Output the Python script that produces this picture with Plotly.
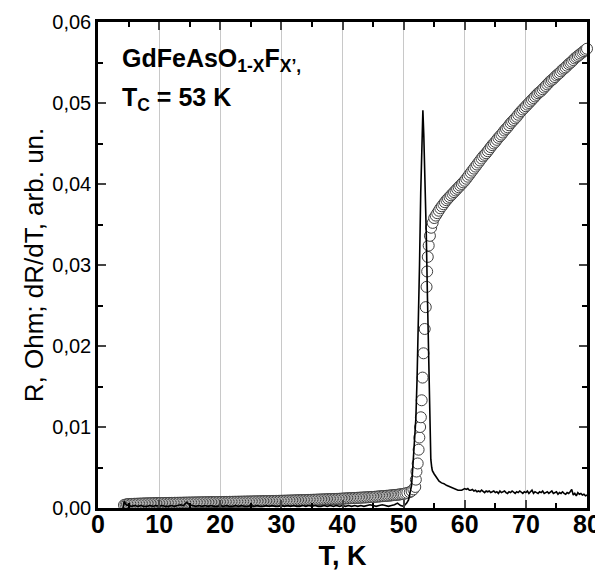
import plotly.graph_objects as go

# ---- resistance R(T) (open circles) ----
r_temp = [4.25, 4.5, 4.75,
          5.0, 5.25, 5.5, 5.75, 6.0, 6.25, 6.5, 6.75, 7.0, 7.25, 7.5, 7.75,
          8.0, 8.25, 8.5, 8.75, 9.0, 9.25, 9.5, 9.75, 10.0, 10.25, 10.5, 10.75,
          11.0, 11.25, 11.5, 11.75, 12.0, 12.25, 12.5, 12.75, 13.0, 13.25, 13.5, 13.75,
          14.0, 14.25, 14.5, 14.75, 15.0, 15.25, 15.5, 15.75, 16.0, 16.25, 16.5, 16.75,
          17.0, 17.25, 17.5, 17.75, 18.0, 18.25, 18.5, 18.75, 19.0, 19.25, 19.5, 19.75,
          20.0, 20.25, 20.5, 20.75, 21.0, 21.25, 21.5, 21.75, 22.0, 22.25, 22.5, 22.75,
          23.0, 23.25, 23.5, 23.75, 24.0, 24.25, 24.5, 24.75, 25.0, 25.25, 25.5, 25.75,
          26.0, 26.25, 26.5, 26.75, 27.0, 27.25, 27.5, 27.75, 28.0, 28.25, 28.5, 28.75,
          29.0, 29.25, 29.5, 29.75, 30.0, 30.25, 30.5, 30.75, 31.0, 31.25, 31.5, 31.75,
          32.0, 32.25, 32.5, 32.75, 33.0, 33.25, 33.5, 33.75, 34.0, 34.25, 34.5, 34.75,
          35.0, 35.25, 35.5, 35.75, 36.0, 36.25, 36.5, 36.75, 37.0, 37.25, 37.5, 37.75,
          38.0, 38.25, 38.5, 38.75, 39.0, 39.25, 39.5, 39.75, 40.0, 40.25, 40.5, 40.75,
          41.0, 41.25, 41.5, 41.75, 42.0, 42.25, 42.5, 42.75, 43.0, 43.25, 43.5, 43.75,
          44.0, 44.25, 44.5, 44.75, 45.0, 45.25, 45.5, 45.75, 46.0, 46.25, 46.5, 46.75,
          47.0, 47.25, 47.5, 47.75, 48.0, 48.25, 48.5, 48.75, 49.0, 49.25, 49.5, 49.75,
          50.0, 50.3, 50.6, 51.0, 51.3, 51.6, 51.9, 52.0, 52.1, 52.3, 52.45,
          52.57, 52.7, 52.82, 52.95, 53.1, 53.25, 53.45, 53.62, 53.75,
          53.85, 53.95, 54.1, 54.3, 54.5, 54.75,
          55.0, 55.25, 55.5, 55.75, 56.0, 56.25, 56.5, 56.75, 57.0, 57.25, 57.5, 57.75,
          58.0, 58.25, 58.5, 58.75, 59.0, 59.25, 59.5, 59.75, 60.0, 60.25, 60.5, 60.75,
          61.0, 61.25, 61.5, 61.75, 62.0, 62.25, 62.5, 62.75, 63.0, 63.25, 63.5, 63.75,
          64.0, 64.25, 64.5, 64.75, 65.0, 65.25, 65.5, 65.75, 66.0, 66.25, 66.5, 66.75,
          67.0, 67.25, 67.5, 67.75, 68.0, 68.25, 68.5, 68.75, 69.0, 69.25, 69.5, 69.75,
          70.0, 70.25, 70.5, 70.75, 71.0, 71.25, 71.5, 71.75, 72.0, 72.25, 72.5, 72.75,
          73.0, 73.25, 73.5, 73.75, 74.0, 74.25, 74.5, 74.75, 75.0, 75.25, 75.5, 75.75,
          76.0, 76.25, 76.5, 76.75, 77.0, 77.25, 77.5, 77.75, 78.0, 78.25, 78.5, 78.75,
          79.0, 79.25, 79.5, 79.75, 80.0]
r_ohm = [0.00036, 0.00042, 0.00046,
         0.00048, 0.00049, 0.00050, 0.00051, 0.00052, 0.00052, 0.00053, 0.00054, 0.00054, 0.00055, 0.00056, 0.00056,
         0.00057, 0.00057, 0.00058, 0.00058, 0.00059, 0.00059, 0.00060, 0.00060, 0.00060, 0.00061, 0.00061, 0.00061,
         0.00062, 0.00062, 0.00062, 0.00063, 0.00063, 0.00063, 0.00064, 0.00064, 0.00064, 0.00065, 0.00065, 0.00065,
         0.00066, 0.00066, 0.00066, 0.00067, 0.00067, 0.00067, 0.00068, 0.00068, 0.00068, 0.00069, 0.00069, 0.00069,
         0.00070, 0.00070, 0.00070, 0.00071, 0.00071, 0.00071, 0.00072, 0.00072, 0.00072, 0.00073, 0.00073, 0.00073,
         0.00074, 0.00074, 0.00074, 0.00075, 0.00075, 0.00075, 0.00076, 0.00076, 0.00076, 0.00077, 0.00077, 0.00077,
         0.00078, 0.00078, 0.00078, 0.00079, 0.00079, 0.00079, 0.00080, 0.00080, 0.00080, 0.00081, 0.00081, 0.00082,
         0.00082, 0.00082, 0.00083, 0.00083, 0.00084, 0.00084, 0.00085, 0.00085, 0.00085, 0.00086, 0.00086, 0.00087,
         0.00087, 0.00088, 0.00088, 0.00089, 0.00089, 0.00090, 0.00090, 0.00091, 0.00091, 0.00092, 0.00092, 0.00093,
         0.00093, 0.00094, 0.00095, 0.00095, 0.00096, 0.00096, 0.00097, 0.00098, 0.00098, 0.00099, 0.00100, 0.00100,
         0.00101, 0.00102, 0.00102, 0.00103, 0.00104, 0.00104, 0.00105, 0.00106, 0.00106, 0.00107, 0.00108, 0.00109,
         0.00109, 0.00110, 0.00111, 0.00112, 0.00112, 0.00113, 0.00114, 0.00115, 0.00116, 0.00117, 0.00118, 0.00119,
         0.00120, 0.00121, 0.00122, 0.00123, 0.00124, 0.00125, 0.00126, 0.00127, 0.00128, 0.00129, 0.00130, 0.00131,
         0.00132, 0.00133, 0.00135, 0.00136, 0.00137, 0.00138, 0.00140, 0.00141, 0.00143, 0.00144, 0.00146, 0.00147,
         0.00149, 0.00151, 0.00152, 0.00154, 0.00156, 0.00158, 0.00160, 0.00162, 0.00164, 0.00166, 0.00169, 0.00172,
         0.00175, 0.00180, 0.00186, 0.00195, 0.00210, 0.00230, 0.00260, 0.00350, 0.00450, 0.00550, 0.00720,
         0.00870, 0.01000, 0.01120, 0.01330, 0.01610, 0.01910, 0.02210, 0.02480, 0.02730,
         0.02920, 0.03100, 0.03240, 0.03360, 0.03460, 0.03520,
         0.03580, 0.03610, 0.03640, 0.03670, 0.03700, 0.03725, 0.03750, 0.03775, 0.03800, 0.03820, 0.03840, 0.03860,
         0.03880, 0.03900, 0.03920, 0.03940, 0.03960, 0.03980, 0.04000, 0.04020, 0.04040, 0.04065, 0.04090, 0.04115,
         0.04140, 0.04165, 0.04190, 0.04215, 0.04240, 0.04265, 0.04290, 0.04315, 0.04340, 0.04360, 0.04380, 0.04405,
         0.04430, 0.04455, 0.04480, 0.04500, 0.04520, 0.04545, 0.04570, 0.04590, 0.04610, 0.04635, 0.04660, 0.04680,
         0.04700, 0.04725, 0.04750, 0.04770, 0.04790, 0.04810, 0.04830, 0.04855, 0.04880, 0.04900, 0.04920, 0.04940,
         0.04960, 0.04980, 0.05000, 0.05020, 0.05040, 0.05060, 0.05080, 0.05100, 0.05120, 0.05135, 0.05150, 0.05170,
         0.05190, 0.05210, 0.05230, 0.05250, 0.05270, 0.05285, 0.05300, 0.05320, 0.05340, 0.05355, 0.05370, 0.05390,
         0.05410, 0.05425, 0.05440, 0.05460, 0.05480, 0.05495, 0.05510, 0.05530, 0.05550, 0.05565, 0.05580, 0.05595,
         0.05610, 0.05625, 0.05640, 0.05655, 0.05670]

# ---- derivative dR/dT (solid line) ----
d_temp = [4.1, 4.3, 4.6, 5.0, 5.5, 6.0, 6.5, 7.0, 7.5, 8.0, 8.5, 9.0, 9.5,
          10.0, 10.5, 11.0, 11.5, 12.0, 12.5, 13.0, 13.5, 14.0, 14.5, 15.0,
          15.5, 16.0, 16.5, 17.0, 17.5, 18.0, 18.5, 19.0, 19.5, 20.0, 20.5,
          21.0, 21.5, 22.0, 22.5, 23.0, 23.5, 24.0, 24.5, 25.0, 25.5, 26.0,
          26.5, 27.0, 27.5, 28.0, 28.5, 29.0, 29.5, 30.0, 30.5, 31.0, 31.5,
          32.0, 32.5, 33.0, 33.5, 34.0, 34.5, 35.0, 35.5, 36.0, 36.5, 37.0,
          37.5, 38.0, 38.5, 39.0, 39.5, 40.0, 40.5, 41.0, 41.5, 42.0, 42.5,
          43.0, 43.5, 44.0, 44.5, 45.0, 45.5, 46.0, 46.5, 47.0, 47.5, 48.0,
          48.5, 49.0, 49.5, 50.0, 50.5, 50.8, 51.0, 51.3, 51.5, 51.7, 52.0,
          52.2, 52.4, 52.6, 52.8, 53.0, 53.15, 53.3, 53.5, 53.7, 53.9, 54.05,
          54.2, 54.3, 54.45, 54.6, 54.7, 55.0, 55.4, 55.8, 56.2, 56.6, 57.0,
          57.6, 58.2, 58.6, 58.9, 59.5,
          60.0, 60.25, 60.5, 60.75, 61.0, 61.25, 61.5, 61.75, 62.0, 62.25, 62.5, 62.75,
          63.0, 63.25, 63.5, 63.75, 64.0, 64.25, 64.5, 64.75, 65.0, 65.25, 65.5, 65.75,
          66.0, 66.25, 66.5, 66.75, 67.0, 67.25, 67.5, 67.75, 68.0, 68.25, 68.5, 68.75,
          69.0, 69.25, 69.5, 69.75, 70.0, 70.25, 70.5, 70.75, 71.0, 71.25, 71.5, 71.75,
          72.0, 72.25, 72.5, 72.75, 73.0, 73.25, 73.5, 73.75, 74.0, 74.25, 74.5, 74.75,
          75.0, 75.25, 75.5, 75.75, 76.0, 76.25, 76.5, 76.75, 77.0, 77.25, 77.5, 77.75,
          78.0, 78.25, 78.5, 78.75, 79.0, 79.25, 79.5, 79.75, 80.0]
d_val = [0.0000, 0.0008, 0.0004, 0.0003, 0.0002, 0.0003, 0.0002, 0.0003, 0.0002, 0.0002, 0.0003, 0.0002, 0.0003,
         0.0002, 0.0003, 0.0002, 0.0002, 0.0003, 0.0002, 0.0003, 0.0004, 0.0003, 0.0007, 0.0004,
         0.0003, 0.0002, 0.0003, 0.0002, 0.0003, 0.0002, 0.0003, 0.0002, 0.0002, 0.0003, 0.0002,
         0.0003, 0.0002, 0.0002, 0.0003, 0.0002, 0.0003, 0.0002, 0.0002, 0.0003, 0.0002, 0.0003,
         0.0002, 0.0002, 0.0003, 0.0002, 0.0003, 0.0002, 0.0002, 0.0003, 0.0002, 0.0003, 0.0002,
         0.0003, 0.0002, 0.0002, 0.0003, 0.0002, 0.0003, 0.0002, 0.0003, 0.0002, 0.0002, 0.0003,
         0.0002, 0.0003, 0.0002, 0.0003, 0.0002, 0.0003, 0.0002, 0.0003, 0.0002, 0.0003, 0.0002,
         0.0003, 0.0002, 0.0003, 0.0004, 0.0003, 0.0002, 0.0003, 0.0004, 0.0003, 0.0002, 0.0003,
         0.0004, 0.0006, 0.0003, 0.0002, 0.0006, 0.0010, 0.0016, 0.0028, 0.0050, 0.0076, 0.0110,
         0.0160, 0.0216, 0.0300, 0.0390, 0.0460, 0.0491, 0.0460, 0.0410, 0.0340, 0.0260, 0.0200,
         0.0130, 0.0090, 0.0060, 0.0050, 0.0046, 0.0042, 0.0037, 0.0033, 0.0031, 0.0030, 0.0028,
         0.0026, 0.0024, 0.0023, 0.0022, 0.0022,
         0.0024, 0.0023, 0.0024, 0.0022, 0.0022, 0.0023, 0.0021, 0.0022, 0.0020, 0.0021, 0.0020, 0.0022,
         0.0020, 0.0019, 0.0021, 0.0020, 0.0021, 0.0019, 0.0020, 0.0021, 0.0019, 0.0020, 0.0018, 0.0021,
         0.0019, 0.0020, 0.0021, 0.0019, 0.0018, 0.0020, 0.0019, 0.0021, 0.0020, 0.0018, 0.0020, 0.0019,
         0.0021, 0.0019, 0.0018, 0.0020, 0.0019, 0.0021, 0.0018, 0.0020, 0.0022, 0.0018, 0.0020, 0.0019,
         0.0018, 0.0020, 0.0019, 0.0021, 0.0018, 0.0019, 0.0020, 0.0018, 0.0019, 0.0021, 0.0018, 0.0019,
         0.0020, 0.0017, 0.0019, 0.0018, 0.0020, 0.0018, 0.0017, 0.0019, 0.0018, 0.0020, 0.0023, 0.0016,
         0.0018, 0.0015, 0.0019, 0.0017, 0.0018, 0.0016, 0.0017, 0.0015, 0.0016]

x_ticks = [0, 10, 20, 30, 40, 50, 60, 70, 80]
y_ticks = [0.00, 0.01, 0.02, 0.03, 0.04, 0.05, 0.06]
y_tick_text = ["0,00", "0,01", "0,02", "0,03", "0,04", "0,05", "0,06"]

FONT = "Liberation Sans, Arial, sans-serif"

fig = go.Figure()
fig.add_trace(go.Scatter(
    x=r_temp, y=r_ohm, mode="markers",
    marker=dict(symbol="circle", size=11, color="white",
                line=dict(color="#404040", width=1)),
    cliponaxis=False, showlegend=False))
fig.add_trace(go.Scatter(
    x=d_temp, y=d_val, mode="lines",
    line=dict(color="black", width=1.6),
    showlegend=False))

fig.add_annotation(x=3.6, y=0.0553, xref="x", yref="y", xanchor="left", yanchor="middle",
                   text="GdFeAsO<sub>1-X</sub>F<sub>X’,</sub>", showarrow=False,
                   font=dict(family=FONT, size=25, color="black", weight="bold"))
fig.add_annotation(x=3.6, y=0.0505, xref="x", yref="y", xanchor="left", yanchor="middle",
                   text="T<sub>C</sub> = 53 K", showarrow=False,
                   font=dict(family=FONT, size=25, color="black", weight="bold"))

# the page adds an 8 px body margin, so the figure is drawn 8 px smaller than the window
fig.update_layout(
    width=595, height=563,
    margin=dict(l=90, r=16, t=14, b=63, autoexpand=False),
    paper_bgcolor="white", plot_bgcolor="white",
    font=dict(family=FONT, color="black"),
    xaxis=dict(range=[0, 80], tickvals=x_ticks, ticks="inside", ticklen=8, tickwidth=2,
               showline=True, linewidth=2.5, linecolor="black", mirror="allticks",
               showgrid=True, gridcolor="#c8c8c8", gridwidth=1, zeroline=False, automargin=False,
               ticklabelstandoff=-8,
               tickfont=dict(family=FONT, size=25, color="black", weight="bold"),
               minor=dict(dtick=5, ticks="inside", ticklen=5, tickwidth=2, tickcolor="black", showgrid=False),
               title=dict(text="T, K", font=dict(family=FONT, size=27, color="black", weight="bold"), standoff=12)),
    yaxis=dict(range=[0, 0.06], tickvals=y_ticks, ticktext=y_tick_text, ticks="inside", ticklen=8, tickwidth=2,
               showline=True, linewidth=2.5, linecolor="black", mirror="allticks",
               showgrid=False, zeroline=False, automargin=False,
               tickfont=dict(family=FONT, size=20, color="black"),
               minor=dict(dtick=0.005, ticks="inside", ticklen=5, tickwidth=2, tickcolor="black", showgrid=False),
               title=dict(text="R, Ohm; dR/dT, arb. un.", font=dict(family=FONT, size=26, color="black"), standoff=2)),
)

fig.write_html("out.html")
